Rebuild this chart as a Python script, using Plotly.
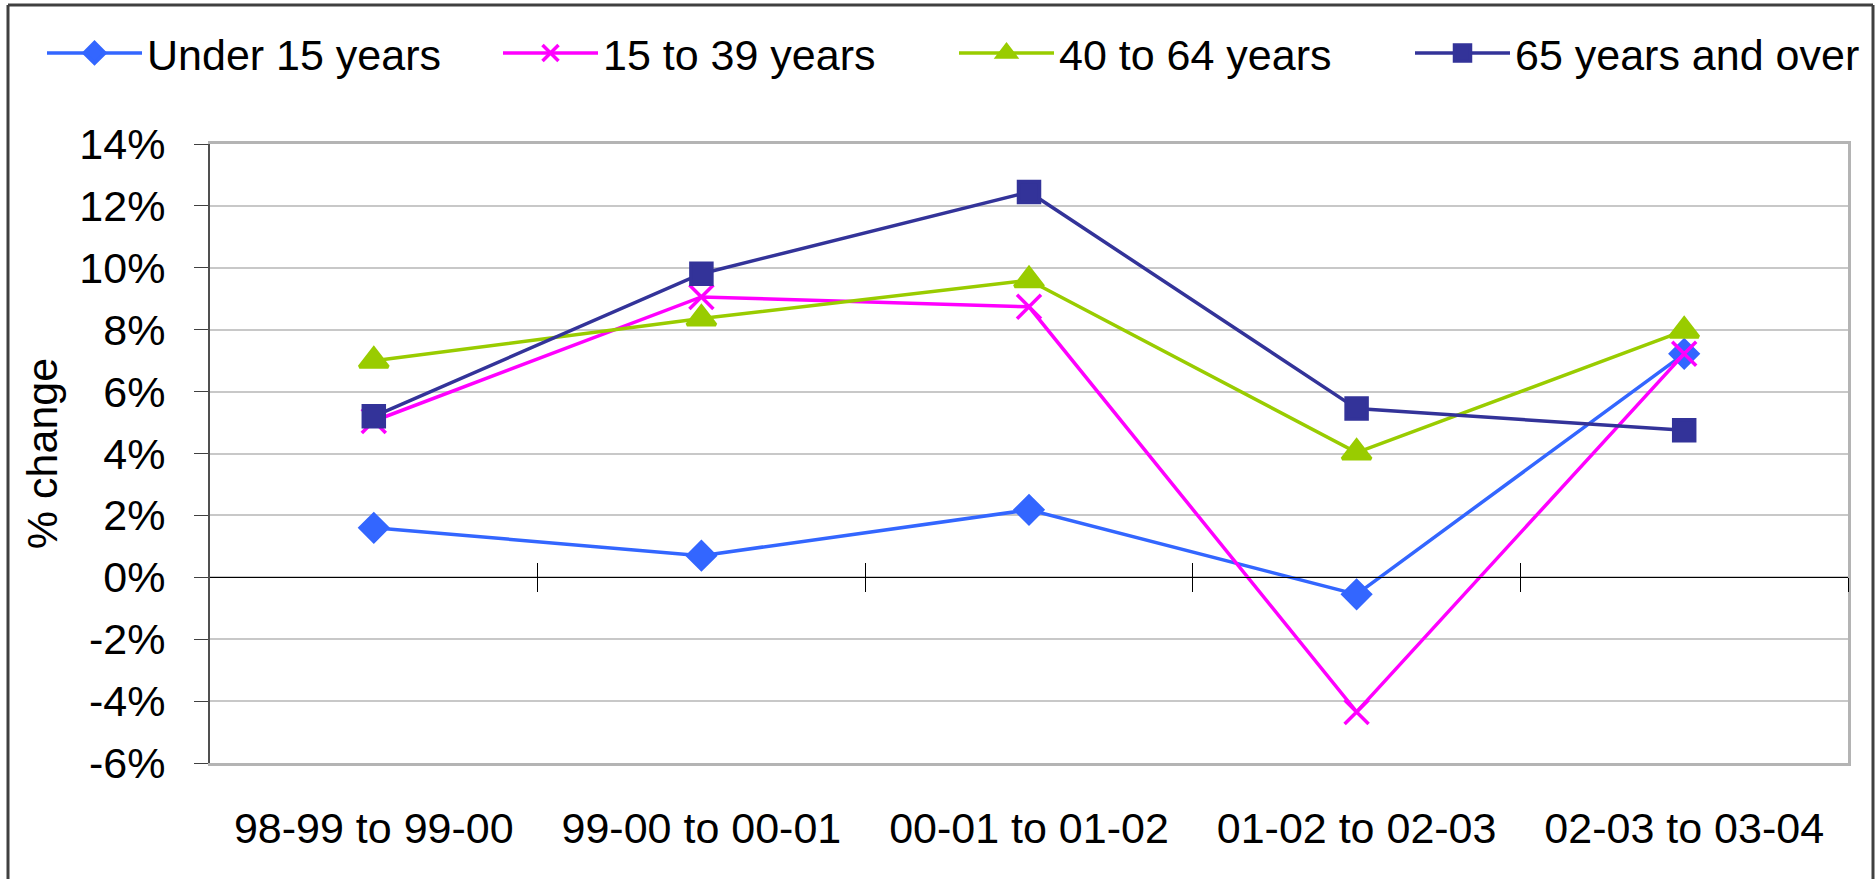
import plotly.graph_objects as go

categories = ["98-99 to 99-00", "99-00 to 00-01", "00-01 to 01-02", "01-02 to 02-03", "02-03 to 03-04"]
under_15 = [0.0160, 0.0070, 0.0218, -0.0055, 0.0722]
age_15_39 = [0.0505, 0.0906, 0.0874, -0.0435, 0.0722]
age_40_64 = [0.0700, 0.0836, 0.0960, 0.0403, 0.0797]
age_65_over = [0.0520, 0.0981, 0.1245, 0.0545, 0.0475]
y_ticks = [-0.06, -0.04, -0.02, 0.0, 0.02, 0.04, 0.06, 0.08, 0.10, 0.12, 0.14]
y_tick_text = [f"{round(v * 100)}%" for v in y_ticks]

FONT = "Liberation Sans, Arial, sans-serif"
W, H = 1876, 879
ML, MR, MT, MB = 210, 28, 144, 116
pw = W - ML - MR
ph = H - MT - MB

xs = list(range(len(categories)))
series = [
    ("Under 15 years", under_15, "#3366FF", "diamond", 21),
    ("15 to 39 years", age_15_39, "#FF00FF", "x-thin-open", 24),
    ("40 to 64 years", age_40_64, "#99CC00", "triangle-up", 25),
    ("65 years and over", age_65_over, "#333399", "square", 21),
]

fig = go.Figure()
for name, vals, col, sym, sz in series:
    fig.add_trace(go.Scatter(
        x=xs, y=vals, name=name, mode="lines+markers",
        line=dict(color=col, width=3.5),
        marker=dict(symbol=sym, size=sz, color=col, line=dict(color=col, width=3.5)),
    ))

# helper traces to activate the extra axes (zero line ticks, right frame)
boundaries = [i + 0.5 for i in xs]
for ax in ("x2", "x3"):
    fig.add_trace(go.Scatter(x=boundaries, y=[None] * len(boundaries), xaxis=ax, yaxis="y",
                             showlegend=False, hoverinfo="skip", mode="lines"))
fig.add_trace(go.Scatter(x=xs, y=[None] * len(xs), xaxis="x", yaxis="y2",
                         showlegend=False, hoverinfo="skip", mode="lines"))

rng = [-0.5, len(categories) - 0.5]
yrng = [y_ticks[0], y_ticks[-1]]
zero_pos = (0 - y_ticks[0]) / (y_ticks[-1] - y_ticks[0])

fig.update_layout(
    width=W, height=H,
    margin=dict(l=ML, r=MR, t=MT, b=MB, autoexpand=False),
    paper_bgcolor="white", plot_bgcolor="white",
    font=dict(family=FONT, size=43, color="black"),
    showlegend=True,
    legend=dict(orientation="h", xref="paper", yref="paper",
                x=(42 - ML) / pw, y=1 + (MT - 53) / ph, xanchor="left", yanchor="middle",
                itemwidth=95, entrywidth=346, entrywidthmode="pixels",
                font=dict(size=43), bgcolor="rgba(0,0,0,0)",
                tracegroupgap=0, itemclick=False),
    xaxis=dict(range=rng, tickvals=xs, ticktext=categories, showgrid=False,
               zeroline=False, showline=True, linecolor="#b4b4b4", linewidth=3,
               mirror=True, ticks="", ticklabelstandoff=25,
               tickfont=dict(size=43)),
    xaxis2=dict(range=rng, overlaying="x", anchor="free", position=zero_pos,
                tickvals=boundaries, showticklabels=False, ticks="outside",
                ticklen=14, tickwidth=1, tickcolor="black",
                showline=True, linecolor="black", linewidth=1,
                showgrid=False, zeroline=False),
    xaxis3=dict(range=rng, overlaying="x", anchor="free", position=zero_pos,
                tickvals=boundaries, showticklabels=False, ticks="inside",
                ticklen=14, tickwidth=1, tickcolor="black",
                showline=False, showgrid=False, zeroline=False),
    yaxis=dict(range=yrng, tickvals=y_ticks, ticktext=y_tick_text,
               showgrid=True, gridcolor="#c8c8c8", gridwidth=1.5,
               zeroline=False, showline=True, linecolor="#505050", linewidth=2,
               mirror=False, ticks="outside", ticklen=14, tickcolor="#404040",
               ticklabelstandoff=20,
               title=dict(text="% change", font=dict(size=43), standoff=8),
               tickfont=dict(size=43)),
    yaxis2=dict(range=yrng, overlaying="y", side="right", showticklabels=False,
                showgrid=False, zeroline=False, ticks="",
                showline=True, linecolor="#b4b4b4", linewidth=3),
)

# outer chart border (top, left, right)
def px_x(p):
    return (p - ML) / pw
def px_y(p):
    return 1 - (p - MT) / ph
border = dict(color="#404040", width=3)
fig.add_shape(type="line", xref="paper", yref="paper", x0=px_x(8), x1=px_x(1873), y0=px_y(5), y1=px_y(5), line=border)
fig.add_shape(type="line", xref="paper", yref="paper", x0=px_x(8), x1=px_x(8), y0=px_y(5), y1=px_y(H + 5), line=border)
fig.add_shape(type="line", xref="paper", yref="paper", x0=px_x(1873), x1=px_x(1873), y0=px_y(5), y1=px_y(H + 5), line=border)

fig.write_html("out.html", config={"displayModeBar": False},
               post_script="document.body.style.margin='0';")
